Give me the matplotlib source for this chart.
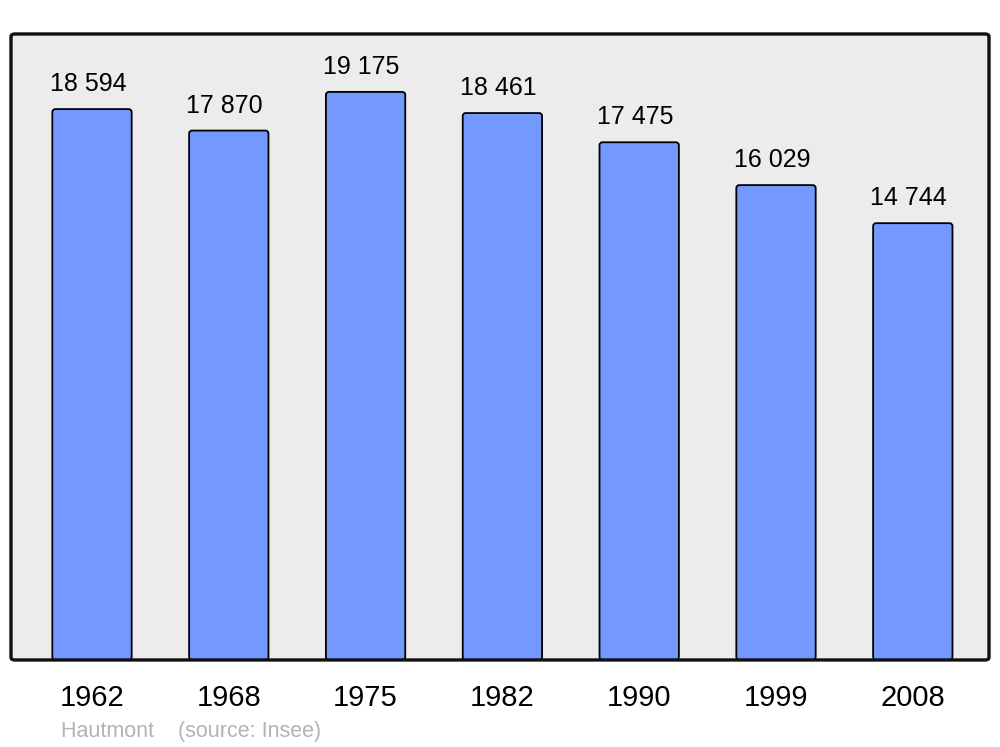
import matplotlib
matplotlib.use("Agg")
import matplotlib.pyplot as plt
from matplotlib.patches import FancyBboxPatch

years = ["1962", "1968", "1975", "1982", "1990", "1999", "2008"]
population = [18594, 17870, 19175, 18461, 17475, 16029, 14744]
source_text = "Hautmont    (source: Insee)"

plt.rcParams['font.family'] = ['Liberation Sans', 'DejaVu Sans']

fig = plt.figure(figsize=(10, 7.47), dpi=100)
ax = fig.add_axes([0.011, 0.1165, 0.978, 0.838])
ax.patch.set_visible(False)
for s in ax.spines.values():
    s.set_visible(False)

# frame background and border
bg = FancyBboxPatch((0, 0), 1, 1, boxstyle="round,pad=0,rounding_size=0.004",
                    transform=ax.transAxes, facecolor="#ececec", edgecolor="none",
                    zorder=0, clip_on=False)
ax.add_patch(bg)
border = FancyBboxPatch((0, 0), 1, 1, boxstyle="round,pad=0,rounding_size=0.004",
                        transform=ax.transAxes, facecolor="none", edgecolor="#111111",
                        linewidth=2.4, zorder=5, clip_on=False)
ax.add_patch(border)

ax.set_xlim(-0.592, 6.557)
ax.set_ylim(0, 21130)

x = list(range(len(years)))
bars = ax.bar(x, population, width=0.58, color="#7399ff", edgecolor="black",
              linewidth=1.3, zorder=2)

# rounded versions of the bars, taken from the bar geometry
x_per_px = (6.557 + 0.592) / 978.0
y_per_px = 21130 / 626.0
for r in bars.patches:
    r.set_visible(False)
    rb = FancyBboxPatch((r.get_x(), r.get_y()), r.get_width(), r.get_height(),
                        boxstyle=f"round,pad=0,rounding_size={3 * x_per_px}",
                        mutation_aspect=y_per_px / x_per_px,
                        facecolor="#7399ff", edgecolor="black", linewidth=1.3,
                        zorder=2)
    ax.add_patch(rb)

for xi, v in zip(x, population):
    ax.annotate(f"{v:,}".replace(",", " "), (xi, v), xytext=(-3, 13),
                textcoords="offset points", ha="center", va="baseline",
                fontsize=18, color="black")

ax.set_xticks(x)
ax.set_xticklabels(years, fontsize=21)
ax.tick_params(axis="x", length=0, pad=17)
ax.set_yticks([])

fig.text(0.061, 0.0135, source_text, fontsize=15.5, color="#b3b3b3",
         ha="left", va="baseline")

fig.savefig("out.png", dpi=100, facecolor="white")
